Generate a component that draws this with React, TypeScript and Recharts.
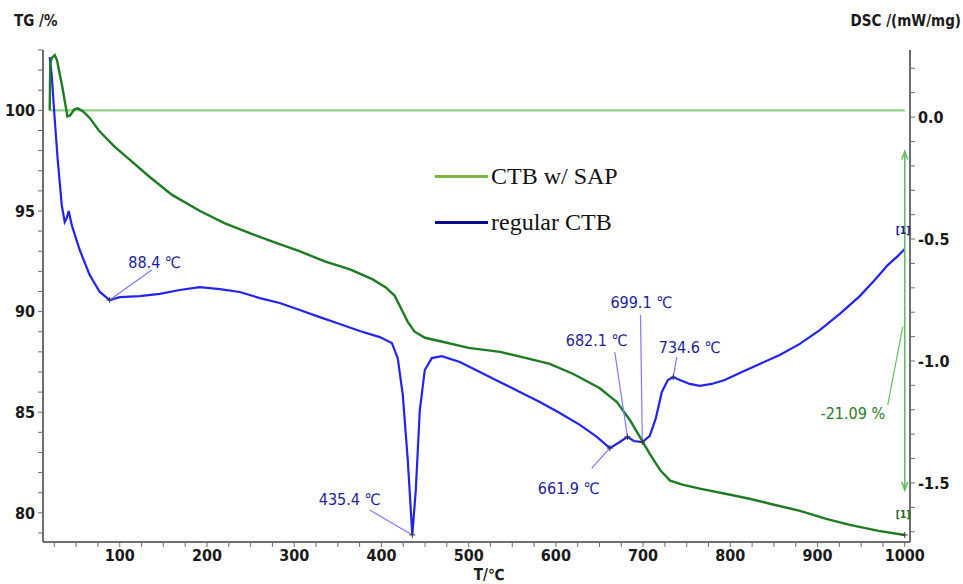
import {
  ComposedChart,
  Line,
  XAxis,
  YAxis,
  Legend,
  Label,
  ReferenceLine,
  ReferenceDot,
} from "recharts";

// TG curve of CTB with SAP (temperature °C, mass %)
const sapTemp = [
  19.7, 20.3, 22, 25.5, 28, 34, 40, 43, 48, 52, 58, 66, 76, 94, 110, 134, 160,
  192, 220, 249, 280, 306, 335, 364, 390, 405, 415, 422, 430, 438, 450, 470,
  500, 536, 565, 593, 620, 650, 670, 685, 700, 708, 720, 731, 745, 765, 800,
  822, 850, 880, 910, 937, 970, 1000,
];
const sapMass = [
  100, 102.3, 102.6, 102.75, 102.5, 101.2, 99.7, 99.75, 100.05, 100.1, 99.95,
  99.6, 99.0, 98.2, 97.6, 96.7, 95.8, 95.0, 94.4, 93.9, 93.4, 93.0, 92.5, 92.1,
  91.6, 91.2, 90.8, 90.2, 89.5, 89.0, 88.7, 88.5, 88.2, 88.0, 87.7, 87.4,
  86.9, 86.2, 85.5, 84.6, 83.5, 82.9, 82.1, 81.6, 81.4, 81.2, 80.9, 80.7, 80.4,
  80.1, 79.7, 79.4, 79.1, 78.9,
];

// DSC curve of regular CTB (temperature °C, mW/mg)
const ctbTemp = [
  19.7, 22, 25.5, 28.9, 33.5, 36.9, 39.2, 41.5, 45, 54.1, 65.6, 77.1, 88.4, 100,
  122.9, 145.9, 168.8, 191.7, 214.7, 237.6, 260.5, 283.4, 306.4, 329.3, 352.2,
  375.2, 398.1, 411.9, 418.7, 424.5, 430.2, 435.4, 439.4, 444, 449.7, 457.8,
  469.2, 489.9, 512.8, 535.7, 558.7, 581.6, 604.5, 627.5, 647, 661.9, 673.3,
  682.1, 689.3, 699.1, 707.7, 714.6, 721.5, 728.4, 734.6, 742.1, 753.5, 765,
  778.7, 793.6, 810.8, 833.7, 856.7, 879.6, 902.5, 925.5, 948.4, 965.6, 980.5,
  991.9, 1000,
];
const ctbDsc = [
  0.246, 0.172, -0.012, -0.176, -0.361, -0.43, -0.414, -0.385, -0.443, -0.545,
  -0.648, -0.717, -0.75, -0.738, -0.734, -0.725, -0.709, -0.697, -0.705,
  -0.717, -0.742, -0.762, -0.791, -0.82, -0.848, -0.877, -0.902, -0.926,
  -0.988, -1.139, -1.406, -1.713, -1.529, -1.201, -1.037, -0.988, -0.98,
  -1.004, -1.045, -1.086, -1.127, -1.168, -1.213, -1.262, -1.311, -1.357,
  -1.332, -1.311, -1.328, -1.332, -1.307, -1.234, -1.127, -1.078, -1.066,
  -1.078, -1.094, -1.102, -1.094, -1.078, -1.049, -1.012, -0.975, -0.93,
  -0.873, -0.807, -0.734, -0.668, -0.607, -0.57, -0.541,
];

const tempTicks = [
  25, 50, 75, 100, 125, 150, 175, 200, 225, 250, 275, 300, 325, 350, 375, 400,
  425, 450, 475, 500, 525, 550, 575, 600, 625, 650, 675, 700, 725, 750, 775,
  800, 825, 850, 875, 900, 925, 950, 975, 1000,
];
const tgTicks = [
  79, 80, 81, 82, 83, 84, 85, 86, 87, 88, 89, 90, 91, 92, 93, 94, 95, 96, 97,
  98, 99, 100, 101, 102, 103,
];
const dscTicks = [
  -1.7, -1.6, -1.5, -1.4, -1.3, -1.2, -1.1, -1.0, -0.9, -0.8, -0.7, -0.6, -0.5,
  -0.4, -0.3, -0.2, -0.1, 0.0, 0.1, 0.2,
];

// peak labels on the DSC curve: peak point, end of leader, label centre
const peakLabels = ["88.4 ℃", "435.4 ℃", "661.9 ℃", "682.1 ℃", "699.1 ℃", "734.6 ℃"];
const peakTemp = [88.4, 435.4, 661.9, 682.1, 699.1, 734.6];
const peakDsc = [-0.75, -1.713, -1.357, -1.311, -1.332, -1.066];
const leaderTemp = [136.7, 386.6, 641.2, 667.5, 697, 738.6];
const leaderDsc = [-0.627, -1.611, -1.439, -0.963, -0.811, -0.984];
const textTemp = [140, 363.7, 614.8, 646.9, 698, 753.5];
const textDsc = [-0.594, -1.566, -1.52, -0.914, -0.758, -0.943];

const massLossLabel = "-21.09 %";

const sapData = sapTemp.map((t, i) => ({ t, tg: sapMass[i] }));
const ctbData = ctbTemp.map((t, i) => ({ t, dsc: ctbDsc[i] }));

const AXIS = "#6e6e6e";
const GREEN = "#1d7b22";
const BLUE = "#2323f0";
const NAVY = "#1c1c9a";
const tickFont = '"Liberation Sans Narrow", "DejaVu Sans Condensed", Arial, sans-serif';

const Cross = (props: any) => {
  const { cx, cy } = props;
  if (cx == null || cy == null) return null;
  return (
    <g stroke="#333" strokeWidth={1}>
      <line x1={cx - 3} y1={cy} x2={cx + 3} y2={cy} />
      <line x1={cx} y1={cy - 3} x2={cx} y2={cy + 3} />
    </g>
  );
};

const ArrowLine = (props: any) => {
  const { x1, y1, x2, y2 } = props;
  if (x1 == null) return null;
  const top = Math.min(y1, y2);
  const bot = Math.max(y1, y2);
  return (
    <g stroke="#62c062" strokeWidth={1.6} fill="none">
      <line x1={x1} y1={top} x2={x2} y2={bot} />
      <polyline points={`${x1 - 3},${top + 8} ${x1},${top} ${x1 + 3},${top + 8}`} />
      <polyline points={`${x1 - 3},${bot - 8} ${x1},${bot} ${x1 + 3},${bot - 8}`} />
    </g>
  );
};

const LegendBox = () => (
  <div style={{ fontFamily: '"Liberation Serif", "Times New Roman", serif', fontSize: 24, color: "#111" }}>
    {[
      { name: "CTB w/ SAP", color: "#7db545" },
      { name: "regular CTB", color: "#0a0a8c" },
    ].map((r) => (
      <div key={r.name} style={{ display: "flex", alignItems: "center", height: 46 }}>
        <div style={{ width: 53, height: 3, background: r.color, marginRight: 3 }} />
        <span style={{ lineHeight: "24px" }}>{r.name}</span>
      </div>
    ))}
  </div>
);

export default function App() {
  return (
    <div style={{ position: "absolute", left: 0, top: 0, width: 963, height: 584, background: "#fff" }}>
      <ComposedChart width={963} height={584} margin={{ top: 50, right: 0, bottom: 0, left: 0 }}>
        <XAxis
          dataKey="t"
          type="number"
          domain={[12, 1006]}
          allowDataOverflow
          ticks={tempTicks}
          interval={0}
          height={42}
          axisLine={{ stroke: AXIS, strokeWidth: 2 }}
          tickLine={{ stroke: AXIS }}
          tickSize={5}
          tickMargin={3}
          tick={{ fontSize: 16, fill: "#1a1a1a", fontFamily: tickFont, fontWeight: 700 }}
          tickFormatter={(v: number) => (v % 100 === 0 ? String(v) : "")}
        >
          <Label
            content={(p: any) => (
              <text x={p.viewBox.x + 446} y={p.viewBox.y + 38} textAnchor="middle" fontSize={15} fontWeight={700} fontFamily={tickFont} fill="#1a1a1a">
                T/℃
              </text>
            )}
          />
        </XAxis>
        <YAxis
          yAxisId="tg"
          type="number"
          domain={[78.55, 103]}
          allowDataOverflow
          ticks={tgTicks}
          interval={0}
          width={43}
          axisLine={{ stroke: AXIS, strokeWidth: 2 }}
          tickLine={{ stroke: AXIS }}
          tickSize={5}
          tickMargin={3}
          tick={{ fontSize: 16, fill: "#1a1a1a", fontFamily: tickFont, fontWeight: 700 }}
          tickFormatter={(v: number) => (v % 5 === 0 ? String(v) : "")}
        >
          <Label
            content={() => (
              <text x={14} y={26} fontSize={15} fontWeight={700} fontFamily={tickFont} fill="#1a1a1a">
                TG /%
              </text>
            )}
          />
        </YAxis>
        <YAxis
          yAxisId="dsc"
          orientation="right"
          type="number"
          domain={[-1.742, 0.275]}
          allowDataOverflow
          ticks={dscTicks}
          interval={0}
          width={53}
          axisLine={{ stroke: AXIS, strokeWidth: 2 }}
          tickLine={{ stroke: AXIS }}
          tickSize={5}
          tickMargin={3}
          tick={{ fontSize: 16, fill: "#1a1a1a", fontFamily: tickFont, fontWeight: 700 }}
          tickFormatter={(v: number) =>
            Math.abs(Math.round(v * 10)) % 5 === 0 ? v.toFixed(1) : ""
          }
        >
          <Label
            content={() => (
              <text x={961} y={26} textAnchor="end" fontSize={15} fontWeight={700} fontFamily={tickFont} fill="#1a1a1a">
                DSC /(mW/mg)
              </text>
            )}
          />
        </YAxis>

        {/* 100 % base line */}
        <ReferenceLine
          yAxisId="tg"
          segment={[{ x: 19.7, y: 100 }, { x: 1000, y: 100 }]}
          stroke="#8fd08a"
          strokeWidth={2.2}
        />

        <Line
          yAxisId="dsc"
          data={ctbData}
          dataKey="dsc"
          name="regular CTB"
          type="linear"
          stroke={BLUE}
          strokeWidth={2.2}
          dot={false}
          isAnimationActive={false}
        />
        <Line
          yAxisId="tg"
          data={sapData}
          dataKey="tg"
          name="CTB w/ SAP"
          type="linear"
          stroke={GREEN}
          strokeWidth={2.4}
          dot={false}
          isAnimationActive={false}
        />

        {peakLabels.map((lab, i) => (
          <ReferenceLine
            key={"l" + i}
            yAxisId="dsc"
            segment={[
              { x: peakTemp[i], y: peakDsc[i] },
              { x: leaderTemp[i], y: leaderDsc[i] },
            ]}
            stroke="#7b7bff"
            strokeWidth={1.2}
          />
        ))}
        {peakLabels.map((lab, i) => (
          <ReferenceDot key={"c" + i} yAxisId="dsc" x={peakTemp[i]} y={peakDsc[i]} r={3} shape={Cross} />
        ))}
        {peakLabels.map((lab, i) => (
          <ReferenceDot
            key={"t" + i}
            yAxisId="dsc"
            x={textTemp[i]}
            y={textDsc[i]}
            r={0}
            fill="none"
            stroke="none"
            label={{ value: lab, position: "center", fill: NAVY, fontSize: 16, fontFamily: tickFont }}
          />
        ))}

        {/* mass loss annotation */}
        <ReferenceLine
          yAxisId="tg"
          segment={[{ x: 1000, y: 97.96 }, { x: 1000, y: 81.14 }]}
          shape={ArrowLine}
        />
        <ReferenceLine
          yAxisId="tg"
          segment={[{ x: 997.7, y: 89.25 }, { x: 980.5, y: 85.37 }]}
          stroke="#62c062"
          strokeWidth={1.2}
        />
        <ReferenceDot
          yAxisId="tg"
          x={940.4}
          y={84.93}
          r={0}
          fill="none"
          stroke="none"
          label={{ value: massLossLabel, position: "center", fill: "#2a7a2a", fontSize: 16, fontFamily: tickFont }}
        />
        <ReferenceDot yAxisId="tg" x={1000} y={78.9} r={3} shape={Cross} />
        <ReferenceDot
          yAxisId="dsc"
          x={998}
          y={-0.463}
          r={0}
          fill="none"
          stroke="none"
          label={{ value: "[1]", position: "center", fill: NAVY, fontSize: 10, fontWeight: 700, fontFamily: tickFont }}
        />
        <ReferenceDot
          yAxisId="tg"
          x={998}
          y={79.9}
          r={0}
          fill="none"
          stroke="none"
          label={{ value: "[1]", position: "center", fill: "#2a6a2a", fontSize: 10, fontWeight: 700, fontFamily: tickFont }}
        />

        <Legend
          layout="vertical"
          align="center"
          verticalAlign="middle"
          wrapperStyle={{ left: 435, top: 153, width: 240 }}
          content={() => <LegendBox />}
        />
      </ComposedChart>
    </div>
  );
}
